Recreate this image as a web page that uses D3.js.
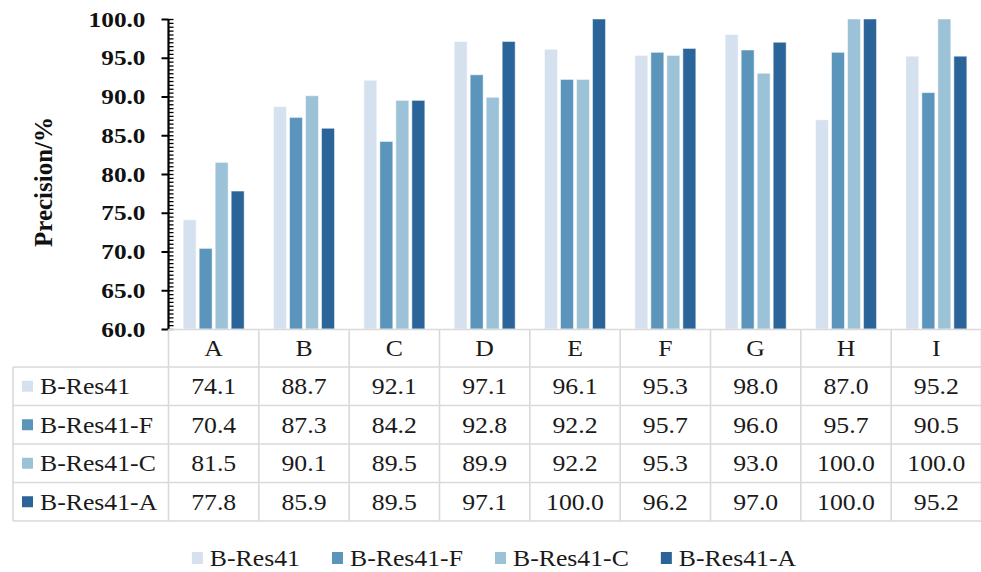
<!DOCTYPE html>
<html>
<head>
<meta charset="utf-8">
<script src="https://cdn.jsdelivr.net/npm/d3@7"></script>
<style>
  html, body { margin: 0; padding: 0; background: #fff; }
  svg { display: block; }
  svg text { font-family: "Liberation Serif", "Times New Roman", serif; }
</style>
</head>
<body>
<svg id="chart" width="981" height="572"></svg>
<script>
// Categories and precision values (%) for each model variant
const categories = ["A", "B", "C", "D", "E", "F", "G", "H", "I"];
const seriesNames = ["B-Res41", "B-Res41-F", "B-Res41-C", "B-Res41-A"];
const bRes41  = [74.1, 88.7, 92.1, 97.1, 96.1, 95.3, 98.0, 87.0, 95.2];
const bRes41F = [70.4, 87.3, 84.2, 92.8, 92.2, 95.7, 96.0, 95.7, 90.5];
const bRes41C = [81.5, 90.1, 89.5, 89.9, 92.2, 95.3, 93.0, 100.0, 100.0];
const bRes41A = [77.8, 85.9, 89.5, 97.1, 100.0, 96.2, 97.0, 100.0, 95.2];
const yTicks = [60, 65, 70, 75, 80, 85, 90, 95, 100];
const colors = ["#d6e1ef", "#5b95bb", "#9cc2d7", "#2a6498"];

const seriesValues = [bRes41, bRes41F, bRes41C, bRes41A];

const FONT = "Liberation Serif";
const svg = d3.select("#chart");

const plotLeft = 168.5, plotRight = 981.5, plotTop = 19, plotBottom = 329;
const labelLeft = 13;
const headerH = 37.5, rowH = 38.5;

const x0 = d3.scaleBand().domain(categories).range([plotLeft, plotRight]).padding(0);
const x1 = d3.scaleBand().domain(seriesNames)
  .range([x0.bandwidth() / 2 - 30.5, x0.bandwidth() / 2 + 30.5])
  .paddingInner(0.19).paddingOuter(0);
const y = d3.scaleLinear().domain([60, 100]).range([plotBottom, plotTop]);

// Text drawn slightly wider than the font's natural proportions
function stretchedText(g, x, yy, txt, opts = {}) {
  const sx = opts.sx || 1.12;
  return g.append("text")
    .attr("transform", `translate(${x},${yy}) scale(${sx},1)`)
    .attr("text-anchor", opts.anchor || "middle")
    .attr("font-family", FONT)
    .attr("font-size", opts.size || 23)
    .attr("font-weight", opts.weight || "normal")
    .attr("fill", opts.fill || "#1a1a1a")
    .text(txt);
}

// Bars
const groups = svg.append("g").selectAll("g")
  .data(categories).join("g")
  .attr("transform", d => `translate(${x0(d)},0)`);

groups.selectAll("rect")
  .data((c, ci) => seriesNames.map((s, si) => ({ s, si, v: seriesValues[si][ci] })))
  .join("rect")
  .attr("x", d => x1(d.s))
  .attr("width", x1.bandwidth())
  .attr("y", d => y(d.v))
  .attr("height", d => y(60) - y(d.v))
  .attr("fill", d => colors[d.si])
  .attr("stroke", "#fff")
  .attr("stroke-opacity", 0.5)
  .attr("stroke-width", 1);

// Y axis: minor ticks every 0.5 on the inside
const minorAxis = d3.axisRight(y)
  .tickValues(d3.range(60, 100.01, 0.5))
  .tickSize(5).tickFormat("");
svg.append("g").attr("transform", `translate(${plotLeft},0)`)
  .call(minorAxis)
  .call(g => g.select(".domain").remove())
  .call(g => g.selectAll("line").attr("stroke", "#000").attr("stroke-width", 1.3));

const yAxis = d3.axisLeft(y).tickValues(yTicks).tickSize(7).tickFormat(d3.format(".1f"));
const yG = svg.append("g").attr("transform", `translate(${plotLeft},0)`).call(yAxis);
yG.select(".domain").attr("stroke", "#000").attr("stroke-width", 2.2)
  .attr("d", `M0,${plotTop}V${plotBottom}`);
yG.selectAll(".tick line").attr("stroke", "#000").attr("stroke-width", 2);
yG.selectAll(".tick text").remove();
yTicks.forEach(t => {
  stretchedText(yG, -23, y(t) + 7.5, d3.format(".1f")(t),
    { anchor: "end", size: 22, sx: 1.15, weight: "bold", fill: "#111" });
});

// Y axis title
svg.append("text")
  .attr("transform", `translate(52,182) rotate(-90)`)
  .attr("text-anchor", "middle")
  .attr("font-family", FONT)
  .attr("font-size", 25)
  .attr("font-weight", "bold")
  .attr("fill", "#111")
  .text("Precision/%");

// Data table
const table = svg.append("g");
const gridColor = "#d9d9d9";
const tableTop = plotBottom + 0.5;
const rowsTop = tableTop + headerH;
const tableBottom = rowsTop + rowH * seriesNames.length;

// horizontal lines
table.append("line").attr("x1", plotLeft).attr("x2", plotRight)
  .attr("y1", tableTop).attr("y2", tableTop);
d3.range(seriesNames.length + 1).forEach(i => {
  table.append("line").attr("x1", labelLeft).attr("x2", plotRight)
    .attr("y1", rowsTop + i * rowH).attr("y2", rowsTop + i * rowH);
});
// vertical lines
table.append("line").attr("x1", labelLeft).attr("x2", labelLeft)
  .attr("y1", rowsTop).attr("y2", tableBottom);
categories.concat([null]).forEach(c => {
  const xv = c === null ? plotRight : x0(c);
  table.append("line").attr("x1", xv).attr("x2", xv)
    .attr("y1", tableTop).attr("y2", tableBottom);
});
table.selectAll("line").attr("stroke", gridColor).attr("stroke-width", 1.6);

// header
categories.forEach(c => {
  stretchedText(table, x0(c) + x0.bandwidth() / 2, tableTop + headerH / 2 + 8, c);
});
// rows
seriesNames.forEach((s, si) => {
  const cy = rowsTop + si * rowH + rowH / 2;
  table.append("rect").attr("x", 22).attr("y", cy - 5.5)
    .attr("width", 11).attr("height", 11).attr("fill", colors[si]);
  stretchedText(table, 40, cy + 8, s, { anchor: "start" });
  categories.forEach((c, ci) => {
    stretchedText(table, x0(c) + x0.bandwidth() / 2, cy + 8,
      d3.format(".1f")(seriesValues[si][ci]));
  });
});

// Legend
const legend = svg.append("g");
const legY = 558;
const items = seriesNames.map((s, si) => {
  const g = legend.append("g");
  g.append("rect").attr("x", 0).attr("y", -6).attr("width", 11).attr("height", 12)
    .attr("fill", colors[si]);
  const t = stretchedText(g, 18, 8, s, { anchor: "start" });
  const w = 18 + t.node().getComputedTextLength() * 1.12;
  return { g, w };
});
const gap = 32;
const total = d3.sum(items, d => d.w) + gap * (items.length - 1);
let lx = 494 - total / 2;
items.forEach(it => {
  it.g.attr("transform", `translate(${lx},${legY})`);
  lx += it.w + gap;
});
</script>
</body>
</html>
